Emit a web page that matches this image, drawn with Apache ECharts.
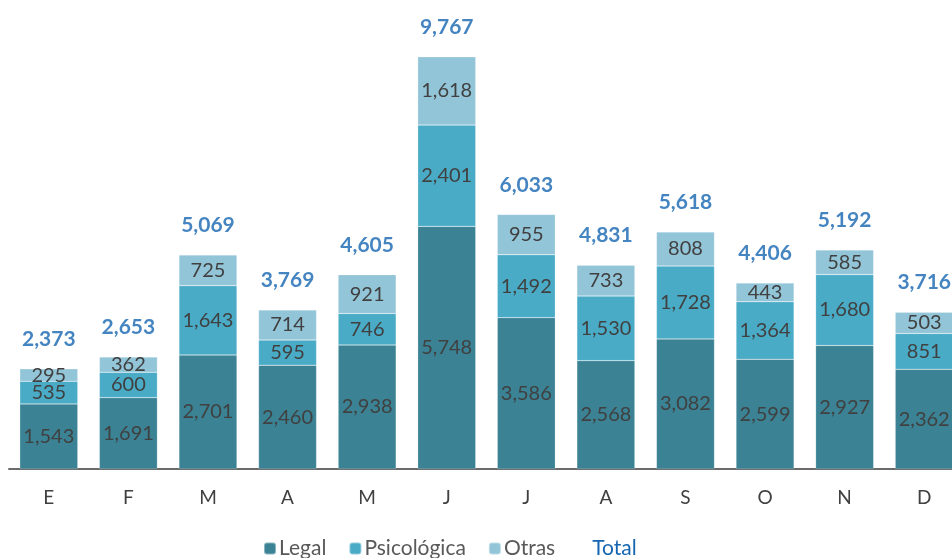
<!DOCTYPE html>
<html><head><meta charset="utf-8">
<script src="https://cdn.jsdelivr.net/npm/echarts@6/dist/echarts.min.js"></script>
<style>html,body{margin:0;padding:0;background:#fff}#c{width:952px;height:558px}</style>
</head><body><div id="c"></div>
<script>
const categories = ['E','F','M','A','M','J','J','A','S','O','N','D'];
const legal = [1543,1691,2701,2460,2938,5748,3586,2568,3082,2599,2927,2362];
const psicologica = [535,600,1643,595,746,2401,1492,1530,1728,1364,1680,851];
const otras = [295,362,725,714,921,1618,955,733,808,443,585,503];
const totals = [2373,2653,5069,3769,4605,9767,6033,4831,5618,4406,5192,3716];

const fmt = v => v.toLocaleString('en-US');
const font = 'Lato, "Open Sans", sans-serif';
const inLabel = {show:true, position:'inside', color:'#404040', fontSize:20, fontFamily:font, formatter:p=>fmt(p.value)};
const chart = echarts.init(document.getElementById('c'));
chart.setOption({
  animation:false,
  grid:{left:9, right:-12, top:47, height:422, containLabel:false, outerBoundsMode:'none'},
  xAxis:{type:'category', data:categories,
    axisLine:{lineStyle:{color:'#6b6b6b', width:2}}, axisTick:{show:false},
    axisLabel:{color:'#404040', fontSize:19, fontFamily:font, margin:19}},
  yAxis:{type:'value', min:0, max:10000, show:false, splitLine:{show:false}},
  legend:{bottom:-6, left:258, itemWidth:12, itemHeight:12, itemGap:22,
    textStyle:{color:'#595959', fontSize:21, fontFamily:font, padding:[0,0,0,-2]},
    data:[{name:'Legal'},{name:'Psicológica'},{name:'Otras'},
      {name:'Total', icon:'none', textStyle:{color:'#1565b0'}}]},
  series:[
    {name:'Legal', type:'bar', stack:'s', data:legal, barWidth:58, itemStyle:{color:'#3a8294', borderColor:'rgba(255,255,255,0.4)', borderWidth:0.5}, label:inLabel},
    {name:'Psicológica', type:'bar', stack:'s', data:psicologica, itemStyle:{color:'#4aabc6', borderColor:'rgba(255,255,255,0.4)', borderWidth:0.5}, label:inLabel},
    {name:'Otras', type:'bar', stack:'s', data:otras, itemStyle:{color:'#93c5d8', borderColor:'rgba(255,255,255,0.4)', borderWidth:0.5}, label:inLabel},
    {name:'Total', type:'scatter', data:totals, symbolSize:0, itemStyle:{color:'#1565b0'},
      label:{show:true, position:'top', distance:19, color:'#1565b0', fontWeight:'bold', fontSize:21, fontFamily:font, formatter:p=>fmt(p.value)}}
  ]
});
</script></body></html>
